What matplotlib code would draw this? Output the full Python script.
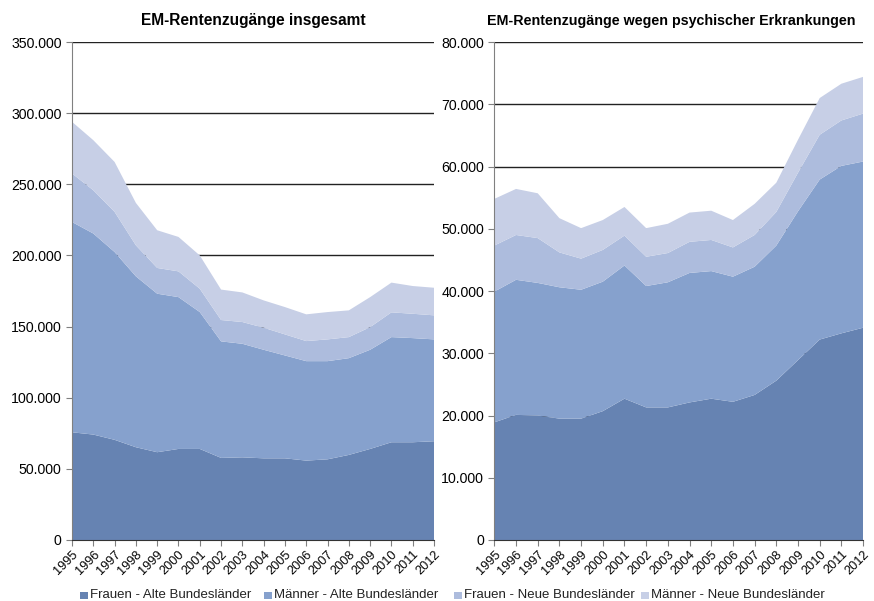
import numpy as np
import matplotlib.pyplot as plt
from matplotlib.ticker import FuncFormatter
from matplotlib.patches import Rectangle

plt.rcParams["font.family"] = ["Liberation Sans", "DejaVu Sans"]

YEARS = list(range(1995, 2013))
SERIES = ["Frauen - Alte Bundesländer", "Männer - Alte Bundesländer",
          "Frauen - Neue Bundesländer", "Männer - Neue Bundesländer"]
COLORS = ["#6683b2", "#86a1cd", "#adbcdd", "#c7cfe6"]

# EM-Rentenzugänge insgesamt (per series, not stacked)
total_frauen_alt = [75700, 74100, 70400, 65200, 61700, 64000, 64000, 57700, 58100,
                    57400, 57400, 55800, 56700, 59800, 64000, 68700, 68700, 69400]
total_maenner_alt = [147800, 141300, 132000, 120100, 111400, 106700, 96200, 81900, 79800,
                     76300, 72300, 69900, 69000, 68000, 69700, 73900, 73200, 71600]
total_frauen_neu = [34100, 30400, 28200, 21800, 18100, 18100, 16400, 15000, 15300,
                    15500, 14800, 14100, 15300, 14800, 15900, 17400, 17100, 16900]
total_maenner_neu = [36300, 35200, 35100, 29800, 26500, 24200, 23400, 21400, 20800,
                     19200, 19200, 18800, 19200, 18800, 21100, 20900, 19500, 19400]

# EM-Rentenzugänge wegen psychischer Erkrankungen
psych_frauen_alt = [18900, 20100, 20000, 19500, 19500, 20700, 22700, 21300, 21300,
                    22100, 22700, 22200, 23300, 25600, 28900, 32200, 33200, 34100]
psych_maenner_alt = [21000, 21700, 21300, 21100, 20700, 20800, 21400, 19500, 20100,
                     20800, 20500, 20100, 20600, 21700, 23900, 25700, 26900, 26700]
psych_frauen_neu = [7400, 7200, 7200, 5600, 5000, 5100, 4800, 4700, 4700,
                    5000, 5000, 4700, 5100, 5400, 6200, 7200, 7300, 7700]
psych_maenner_neu = [7500, 7400, 7200, 5500, 4900, 4800, 4600, 4600, 4700,
                     4700, 4700, 4400, 5000, 4700, 5300, 5900, 5900, 5900]

# title, title size, title x (axes fraction), series, y max, y step, axes rect
panels = [
    ("EM-Rentenzugänge insgesamt", 11.2, 0.5,
     [total_frauen_alt, total_maenner_alt, total_frauen_neu, total_maenner_neu],
     350000, 50000, [0.0824, 0.1015, 0.4142, 0.8286]),
    ("EM-Rentenzugänge wegen psychischer Erkrankungen", 10.3, 0.48,
     [psych_frauen_alt, psych_maenner_alt, psych_frauen_neu, psych_maenner_neu],
     80000, 10000, [0.5656, 0.1015, 0.4219, 0.8286]),
]

fmt = FuncFormatter(lambda v, pos: f"{int(v):,}".replace(",", "."))

W, H = 874, 601
fig = plt.figure(figsize=(W / 100, H / 100), dpi=100)

for title, title_size, title_x, values, ymax, step, rect in panels:
    ax = fig.add_axes(rect)
    ax.stackplot(YEARS, *values, colors=COLORS, linewidth=0, zorder=2)
    ax.set_xlim(YEARS[0], YEARS[-1])
    ax.set_ylim(0, ymax)
    ax.set_yticks(np.arange(0, ymax + 1, step))
    ax.yaxis.set_major_formatter(fmt)
    ax.set_xticks(YEARS)
    ax.set_xticklabels([str(y) for y in YEARS], rotation=45,
                       ha="right", va="top", rotation_mode="anchor")
    for y in np.arange(step, ymax + 1, step):
        ax.axhline(y, color="#222222", lw=1.0, zorder=1)
    ax.tick_params(axis="y", labelsize=10.2, color="#808080", length=4,
                   direction="out")
    ax.tick_params(axis="x", labelsize=9.2, color="#808080", length=4,
                   direction="out", pad=2)
    for side in ["top", "right"]:
        ax.spines[side].set_visible(False)
    ax.spines["left"].set_color("#808080")
    ax.spines["bottom"].set_color("#333333")
    ax.spines["left"].set_zorder(3)
    ax.spines["bottom"].set_zorder(3)
    ax.set_title(title, fontsize=title_size, fontweight="bold", pad=12,
                 x=title_x)

# legend row under both panels, squares placed like the original
legend_x = [80, 264, 454, 641]   # pixel x of each square
legend_y = 595
for x, label, color in zip(legend_x, SERIES, COLORS):
    fig.patches.append(Rectangle((x / W, (H - legend_y - 3.5) / H), 8 / W, 7 / H,
                                 transform=fig.transFigure, facecolor=color,
                                 edgecolor="none"))
    fig.text((x + 10) / W, (H - legend_y) / H, label, fontsize=9.5,
             ha="left", va="center", color="#222222")

fig.savefig("out.png", dpi=100)
